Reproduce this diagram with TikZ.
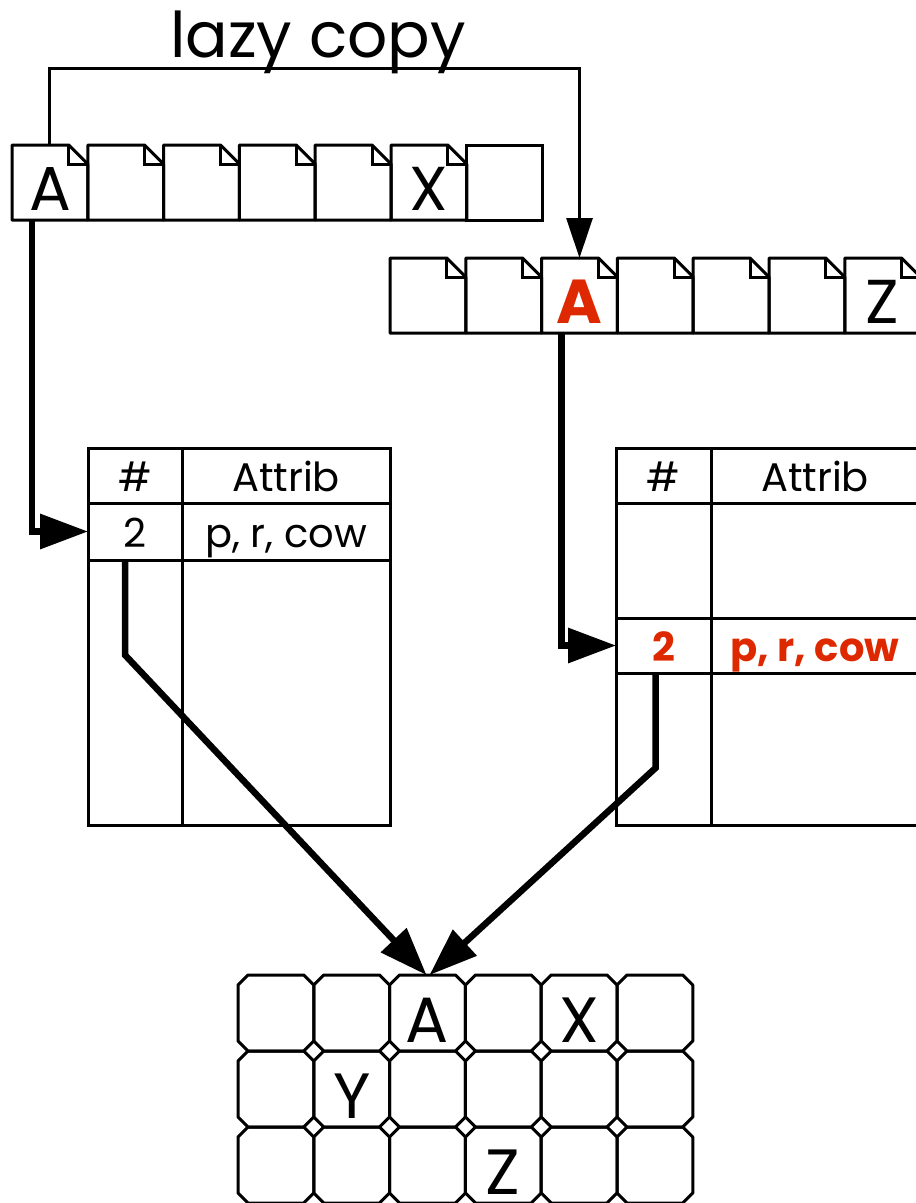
\documentclass[tikz,border=0pt]{standalone}
\usepackage{fontspec}
\setmainfont{Poppins}
\usepackage{tikz}
\usetikzlibrary{arrows.meta,positioning}
\definecolor{cowred}{RGB}{221,40,0}
\tikzset{
  page/.style={minimum width=75.8pt, minimum height=75pt, inner sep=0pt,
              outer sep=0pt, font=\pagefont, text height=55pt, text depth=0pt},
  cell/.style={draw, line width=3pt, anchor=north west, inner sep=0pt,
              outer sep=0pt, font=\tablefont, text height=31pt, text depth=0pt},
  slot/.style={minimum width=75.8pt, minimum height=76pt, inner sep=0pt,
              outer sep=0pt},
  tag/.style={font=\slotfont, text height=58pt, text depth=0pt, inner sep=0pt},
  flow/.style={-{Triangle[length=40pt,width=26pt]}, line width=3pt},
  bigflow/.style={-{Triangle[length=48pt,width=34pt]}, line width=6.5pt},
}
\newcommand{\pagefont}{\fontsize{62}{66}\selectfont}
\newcommand{\slotfont}{\fontsize{64}{68}\selectfont}
\newcommand{\tablefont}{\fontsize{40}{44}\selectfont}
\newcommand{\lazyfont}{\fontsize{63}{66}\selectfont}
\newcommand{\pageedge}[1]{%
  \draw[line width=3pt, line join=round] (#1.north west) -- ([xshift=-19pt]#1.north east)
    -- ([yshift=-19pt]#1.north east) -- (#1.south east) -- (#1.south west) -- cycle;
  \draw[line width=3pt] ([xshift=-19pt]#1.north east) |- ([yshift=-19pt]#1.north east);}
\newcommand{\slotedge}[1]{%
  \draw[line width=3pt, line join=round] ([xshift=10pt]#1.north west) -- ([xshift=-10pt]#1.north east)
    -- ([yshift=-10pt]#1.north east) -- ([yshift=10pt]#1.south east)
    -- ([xshift=-10pt]#1.south east) -- ([xshift=10pt]#1.south west)
    -- ([yshift=10pt]#1.south west) -- ([yshift=-10pt]#1.north west) -- cycle;}

\begin{document}
\begin{tikzpicture}[x=1pt, y=-1pt]
  \useasboundingbox (0,0) rectangle (916,1203);

  % original page table
  \foreach \i/\t in {1/A,2/{},3/{},4/{},5/{},6/X,7/{}}
    \node[page] (pA\i) at ({49.9+75.8*(\i-1)},182.5) {\t};
  \foreach \i in {1,...,6}
    {\pageedge{pA\i}}
  \draw[line width=3pt] (pA7.north west) rectangle (pA7.south east);

  % copied page table
  \foreach \i/\t in {1/{},2/{},3/{\textbf{\textcolor{cowred}{A}}},4/{},5/{},6/{},7/Z}
    \node[page] (pB\i) at ({427.9+75.8*(\i-1)},295.5) {\t};
  \foreach \i in {1,...,7}
    {\pageedge{pB\i}}

  \node[font=\lazyfont, anchor=base] (lazy) at (318,57) {lazy copy};
  \draw[flow] (pA1.north) -- ++(0,-77) -| (pB3.north);

  % left attribute table
  \node[cell, minimum width=94pt, minimum height=55pt] (lhash) at (88,448) {\#};
  \node[cell, minimum width=208pt, minimum height=55pt] (lattr) at (182,448) {Attrib};
  \node[cell, minimum width=94pt, minimum height=57pt] (lnum) at (88,503) {2};
  \node[cell, minimum width=208pt, minimum height=57pt] (lval) at (182,503) {p, r, cow};
  \node[cell, minimum width=94pt, minimum height=265pt] (lrest) at (88,560) {};
  \node[cell, minimum width=208pt, minimum height=265pt] (lrestb) at (182,560) {};

  % right attribute table
  \node[cell, minimum width=95pt, minimum height=55pt] (rhash) at (616,448) {\#};
  \node[cell, minimum width=208pt, minimum height=55pt] (rattr) at (711,448) {Attrib};
  \node[cell, minimum width=95pt, minimum height=115pt] (rfree) at (616,503) {};
  \node[cell, minimum width=208pt, minimum height=115pt] (rfreeb) at (711,503) {};
  \node[cell, minimum width=95pt, minimum height=55pt, text=cowred, font=\tablefont\bfseries]
    (rnum) at (616,618) {2};
  \node[cell, minimum width=208pt, minimum height=55pt, text=cowred, font=\tablefont\bfseries]
    (rval) at (711,618) {p, r, cow};
  \node[cell, minimum width=95pt, minimum height=152pt] (rrest) at (616,673) {};
  \node[cell, minimum width=208pt, minimum height=152pt] (rrestb) at (711,673) {};

  % object store
  \foreach \r in {1,2,3}
    \foreach \c in {1,...,6}
      {\node[slot] (g\r\c) at ({275.9+75.8*(\c-1)},{1013+76*(\r-1)}) {};
       \slotedge{g\r\c}}
  \foreach \r/\c/\t in {1/3/A,1/5/X,2/2/Y,3/4/Z}
    \node[tag] (t\r\c) at (g\r\c) {\t};

  \draw[bigflow] ([xshift=20pt]pA1.south west) |- (lnum.west);
  \draw[bigflow] ([xshift=20pt]pB3.south west) |- (rnum.west);
  \draw[bigflow] ([xshift=-10pt]lnum.south) -- ++(0,95) -- ([xshift=-1pt]g13.north);
  \draw[bigflow] ([xshift=-8pt]rnum.south) -- ++(0,95) -- ([xshift=2pt]g13.north);
\end{tikzpicture}
\end{document}
